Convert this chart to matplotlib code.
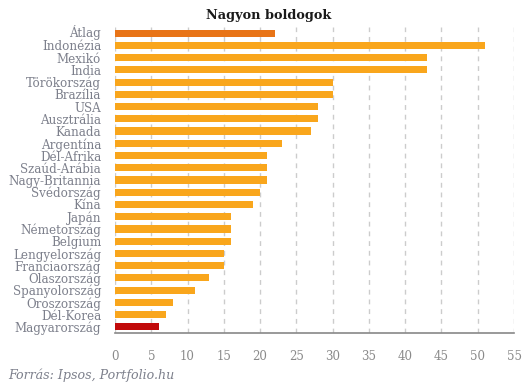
import matplotlib
matplotlib.use("Agg")
import matplotlib.pyplot as plt
import matplotlib.transforms as mtransforms

categories = ["Átlag", "Indonézia", "Mexikó", "India", "Törökország", "Brazília", "USA",
              "Ausztrália", "Kanada", "Argentína", "Dél-Afrika", "Szaúd-Arábia",
              "Nagy-Britannia", "Svédország", "Kína", "Japán", "Németország", "Belgium",
              "Lengyelország", "Franciaország", "Olaszország", "Spanyolország",
              "Oroszország", "Dél-Korea", "Magyarország"]
values = [22, 51, 43, 43, 30, 30, 28, 28, 27, 23, 21, 21, 21, 20, 19, 16, 16, 16,
          15, 15, 13, 11, 8, 7, 6]
xticks = [0, 5, 10, 15, 20, 25, 30, 35, 40, 45, 50, 55]

colors = []
for c in categories:
    if c == "Átlag":
        colors.append("#E87417")
    elif c == "Magyarország":
        colors.append("#C10A0A")
    else:
        colors.append("#F9A61C")

serif = ["DejaVu Serif"]
fig = plt.figure(figsize=(5.3, 3.9), dpi=100)
ax = fig.add_axes([115/530, 57/390, 399/530, 306/390])

ypos = list(range(len(categories)))
ax.barh(ypos, values, height=0.58, color=colors, zorder=3)
ax.set_ylim(len(categories) - 0.5, -0.5)
ax.set_xlim(0, 55)
ax.set_xticks(xticks)
ax.set_xticklabels([str(t) for t in xticks], family=serif, fontsize=8.5, color="#8a8a8a")
ax.set_yticks(ypos)
ax.set_yticklabels(categories, family=serif, fontsize=8.6, color="#7d808c")
ax.tick_params(axis="both", length=0)
ax.tick_params(axis="x", pad=12)
ax.tick_params(axis="y", pad=10)
ax.xaxis.grid(True, linestyle=(0, (3.5, 3.5)), color="#cccccc", linewidth=1, zorder=0)
for s in ["top", "right", "left"]:
    ax.spines[s].set_visible(False)
ax.spines["bottom"].set_color("#888888")
ax.spines["bottom"].set_linewidth(1.2)

# nudge the top label up slightly so it does not collide with the next one
lbl = ax.get_yticklabels()[0]
lbl.set_transform(lbl.get_transform() + mtransforms.ScaledTranslation(0, 1.5/72, fig.dpi_scale_trans))

fig.text(269/530, 1 - 15/390, "Nagyon boldogok", family=serif, fontsize=9.3,
         fontweight="bold", color="#1a1a1a", ha="center", va="center")
fig.text(8/530, 1 - 375/390, "Forrás: Ipsos, Portfolio.hu", family=serif, fontsize=9.05,
         style="italic", color="#7d808c", ha="left", va="center")

fig.savefig("out.png", dpi=100)
